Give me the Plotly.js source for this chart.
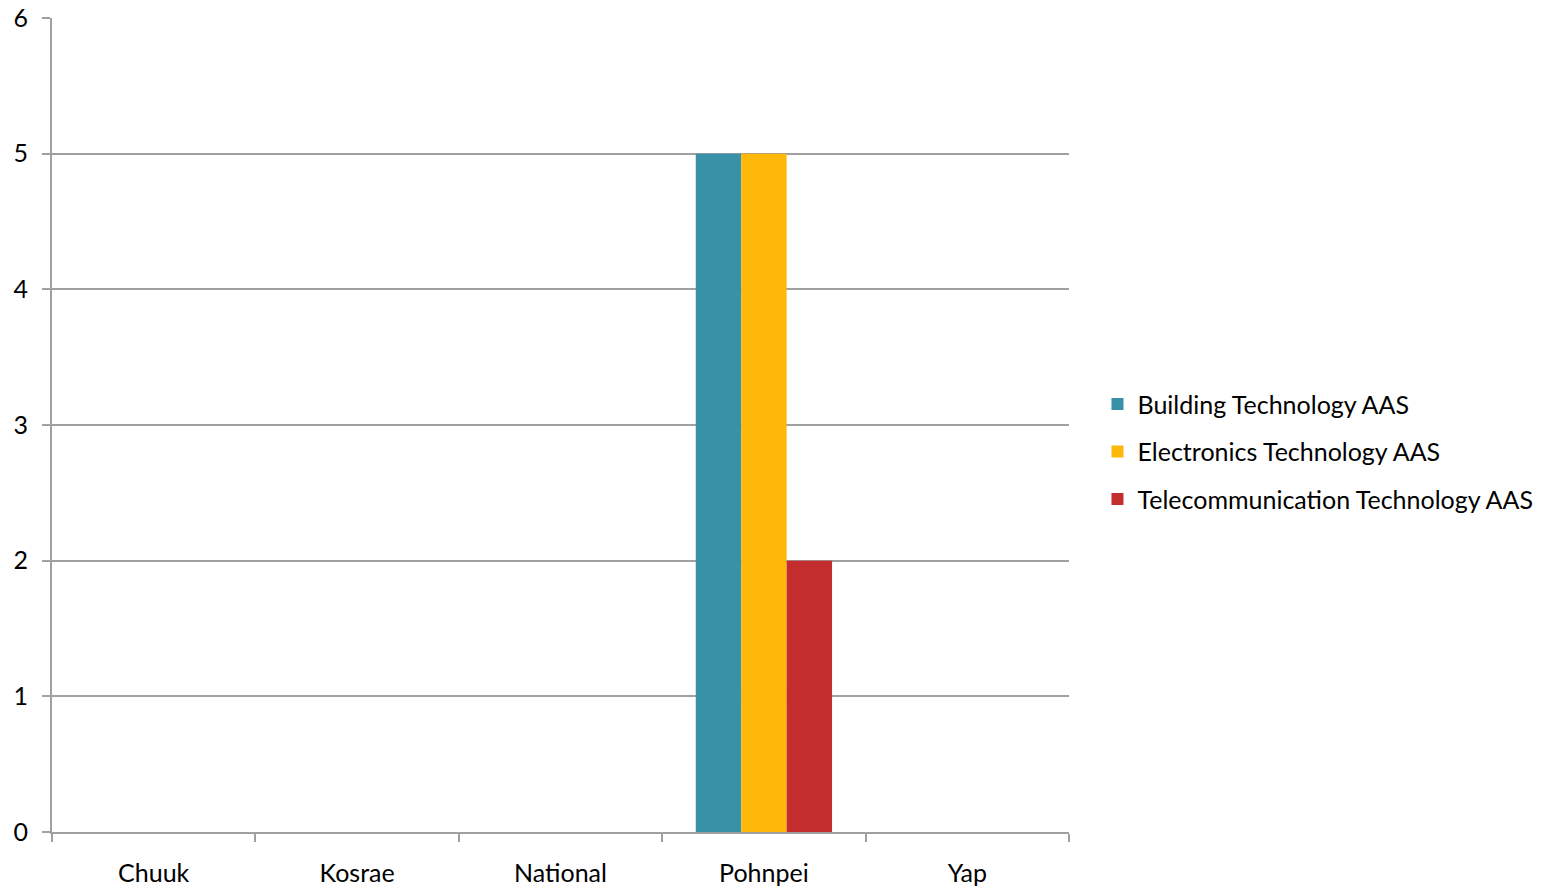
<!DOCTYPE html>
<html>
<head>
<meta charset="utf-8">
<script src="https://cdn.plot.ly/plotly-3.0.1.min.js"></script>
<style>html,body{margin:0;padding:0;background:#fff;}#chart{width:1550px;height:889px;}</style>
</head>
<body>
<div id="chart"></div>
<script>
const categories = ["Chuuk", "Kosrae", "National", "Pohnpei", "Yap"];
const seriesNames = ["Building Technology AAS", "Electronics Technology AAS", "Telecommunication Technology AAS"];
const building = [0, 0, 0, 5, 0];
const electronics = [0, 0, 0, 5, 0];
const telecom = [0, 0, 0, 2, 0];
const colors = ["#3891A7", "#FEB80A", "#C32D2E"];

const allSeries = [building, electronics, telecom];
const traces = allSeries.map((vals, i) => ({
  type: "bar",
  name: seriesNames[i],
  legendgroup: "g" + i,
  x: categories,
  y: vals,
  marker: {color: colors[i], line: {width: 0}},
  hoverinfo: "none"
}));

const font = "Lato, 'Open Sans', sans-serif";
const layout = {
  width: 1550, height: 889,
  margin: {l: 52, r: 481, t: 18, b: 57},
  paper_bgcolor: "#fff", plot_bgcolor: "#fff",
  barmode: "group", bargap: 0.33, bargroupgap: 0,
  font: {family: font, size: 25, color: "#000"},
  xaxis: {
    type: "category",
    showline: true, linecolor: "#a0a0a0", linewidth: 2,
    ticks: "outside", tickson: "boundaries", ticklen: 8, tickcolor: "#a0a0a0", tickwidth: 2,
    showgrid: false, zeroline: false,
    tickfont: {family: font, size: 25, color: "#000"},
    ticklabelstandoff: 18
  },
  yaxis: {
    range: [0, 6], dtick: 1, tick0: 0,
    showline: true, linecolor: "#a0a0a0", linewidth: 2,
    ticks: "outside", ticklen: 8, tickcolor: "#a0a0a0", tickwidth: 2,
    showgrid: true, gridcolor: "#a0a0a0", gridwidth: 2,
    zeroline: false,
    tickfont: {family: font, size: 25, color: "#000"},
    ticklabelstandoff: 9
  },
  showlegend: true,
  legend: {
    x: 1.028, xanchor: "left", y: 0.467, yanchor: "middle",
    font: {family: font, size: 25, color: "#000"},
    tracegroupgap: 12, itemwidth: 30,
    bgcolor: "rgba(0,0,0,0)"
  }
};

Plotly.newPlot("chart", traces, layout, {displayModeBar: false, staticPlot: true});
</script>
</body>
</html>
